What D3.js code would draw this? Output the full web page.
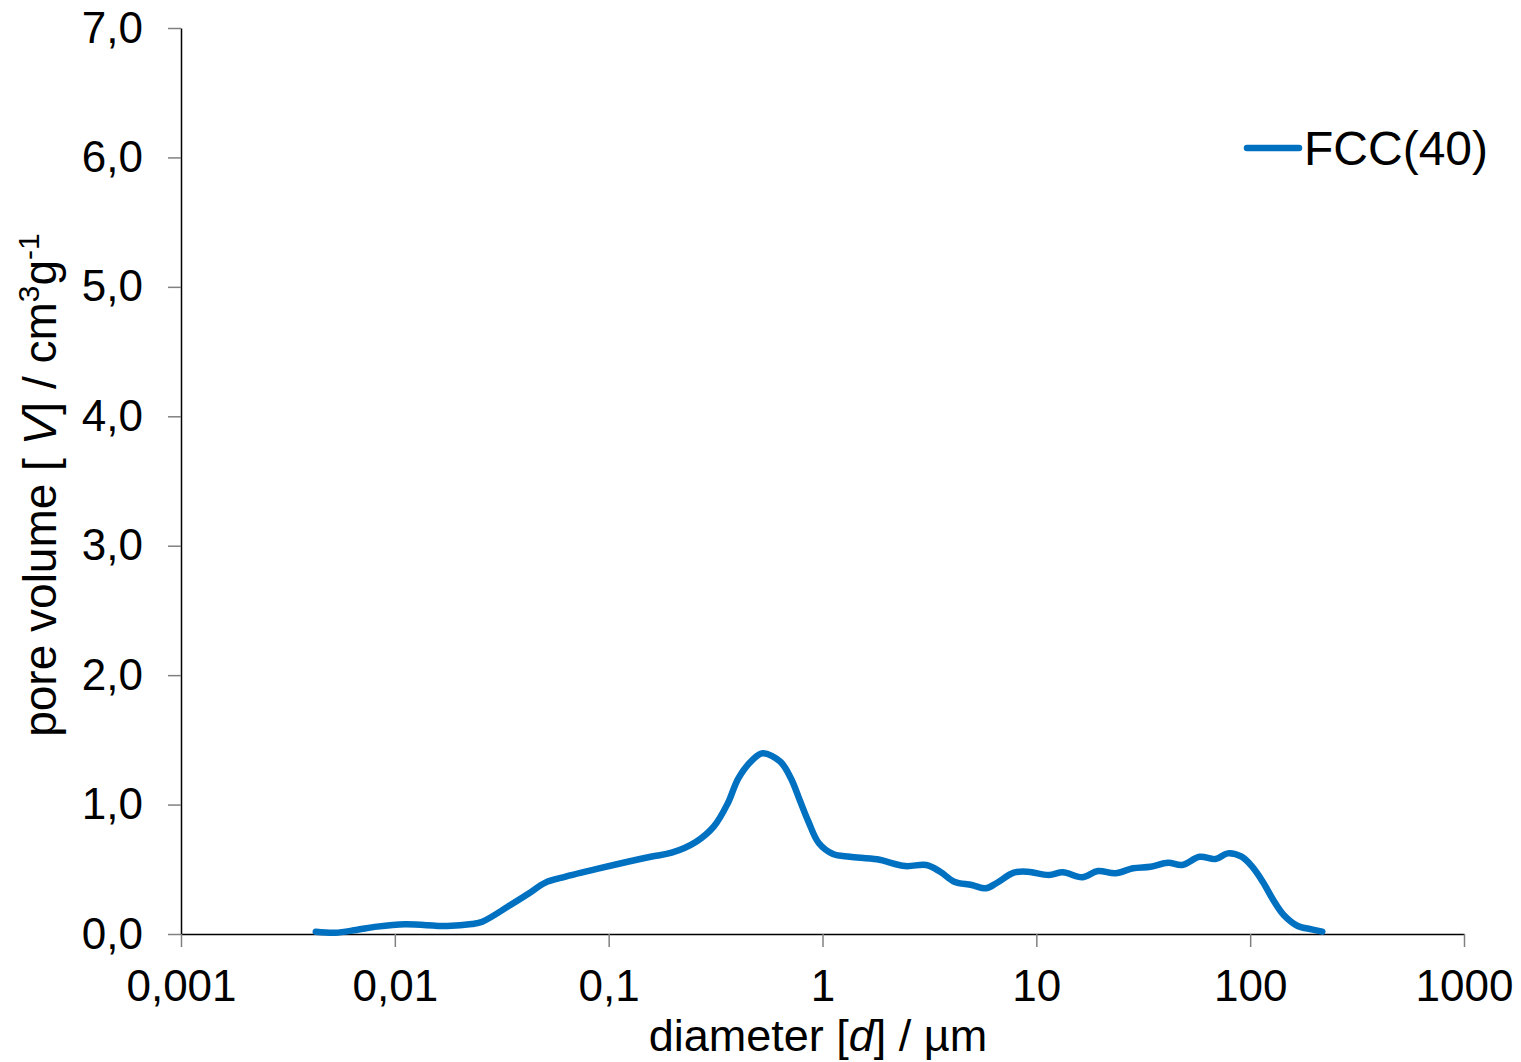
<!DOCTYPE html>
<html><head><meta charset="utf-8">
<script src="https://cdn.jsdelivr.net/npm/d3@7"></script>
<style>
html,body{margin:0;padding:0;background:#fff;}
text{font-family:"Liberation Sans",Arial,sans-serif;fill:#000;}
</style></head>
<body>
<svg id="chart" width="1521" height="1062"></svg>
<script>
// Data
const diameters = [0.00427,0.00526,0.00659,0.00826,0.01118,0.01759,0.02291,0.02565,0.03471,0.04192,
  0.0506,0.06116,0.08917,0.1571,0.1971,0.2567,0.3099,0.3607,0.4041,0.4696,
  0.5258,0.6354,0.7115,0.7823,0.8594,0.962,1.12,1.342,1.8,2.437,
  3.055,3.552,4.13,4.987,5.803,6.498,7.847,9.123,11.45,13.31,
  16.39,19.41,23.46,28.32,34.2,41.29,48.05,58.01,68.8,78.46,
  91.2,102.2,114.5,128.2,143.5,166.9,194.0,217.5];
const volumes = [0.018,0.010,0.031,0.057,0.075,0.062,0.077,0.095,0.224,0.309,
  0.397,0.438,0.505,0.597,0.628,0.713,0.829,1.010,1.203,1.344,
  1.396,1.331,1.203,1.035,0.868,0.701,0.618,0.597,0.577,0.525,
  0.533,0.481,0.404,0.379,0.353,0.392,0.474,0.481,0.456,0.477,
  0.438,0.487,0.469,0.508,0.520,0.551,0.533,0.597,0.579,0.623,
  0.597,0.520,0.404,0.263,0.147,0.062,0.036,0.018];
const xTicks = [0.001,0.01,0.1,1,10,100,1000];
const xTickLabels = ["0,001","0,01","0,1","1","10","100","1000"];
const yTicks = [0,1,2,3,4,5,6,7];
const seriesName = "FCC(40)";

(function(){
const svg = d3.select("#chart");
const mL = 181, mR = 1464, mT = 28, mB = 934;
const x = d3.scaleLog().domain([0.001,1000]).range([mL,mR]);
const y = d3.scaleLinear().domain([0,7]).range([mB,mT]);
const tickColor = "#808080";
const fs = 44;

// Y axis
const yAxis = svg.append("g").attr("transform",`translate(${mL},0)`)
  .call(d3.axisLeft(y).tickValues(yTicks).tickSize(13).tickSizeOuter(0).tickPadding(25)
    .tickFormat(d => d3.format(".1f")(d).replace(".",",")));
yAxis.select(".domain").attr("stroke","#000").attr("stroke-width",1.5);
yAxis.selectAll(".tick line").attr("stroke",tickColor).attr("stroke-width",1.5);
yAxis.selectAll(".tick text").attr("font-size",fs).attr("font-family","Liberation Sans, Arial, sans-serif").attr("fill","#000");

// X axis
const xAxis = svg.append("g").attr("transform",`translate(0,${mB})`)
  .call(d3.axisBottom(x).tickValues(xTicks).tickSize(13).tickSizeOuter(0).tickPadding(23)
    .tickFormat((d,i) => xTickLabels[i]));
xAxis.select(".domain").attr("stroke","#000").attr("stroke-width",1.5);
xAxis.selectAll(".tick line").attr("stroke",tickColor).attr("stroke-width",1.5);
xAxis.selectAll(".tick text").attr("font-size",fs).attr("font-family","Liberation Sans, Arial, sans-serif").attr("fill","#000");

// Axis titles
const xt = svg.append("text").attr("x",818).attr("y",1051).attr("text-anchor","middle").attr("font-size",45);
xt.append("tspan").text("diameter [");
xt.append("tspan").attr("font-style","italic").text("d");
xt.append("tspan").text("] / µm");

const yt = svg.append("text").attr("transform","translate(56,485) rotate(-90)").attr("text-anchor","middle").attr("font-size",46);
yt.append("tspan").text("pore volume [ ");
yt.append("tspan").attr("font-style","italic").text("V");
yt.append("tspan").text("] / cm");
yt.append("tspan").attr("font-size",30).attr("dy",-17).text("3");
yt.append("tspan").attr("font-size",46).attr("dy",17).text("g");
yt.append("tspan").attr("font-size",30).attr("dy",-17).text("-1");

// Line
const line = d3.line().x((d,i)=>x(diameters[i])).y(d=>y(d)).curve(d3.curveCatmullRom.alpha(0.5));
svg.append("path").datum(volumes).attr("d",line).attr("fill","none")
  .attr("stroke","#0070C0").attr("stroke-width",6.5).attr("stroke-linecap","round").attr("stroke-linejoin","round");

// Legend
svg.append("line").attr("x1",1247).attr("x2",1299).attr("y1",148).attr("y2",148)
  .attr("stroke","#0070C0").attr("stroke-width",6.5).attr("stroke-linecap","round");
svg.append("text").attr("x",1304).attr("y",165).attr("font-size",48).text(seriesName);
})();
</script>
</body></html>
